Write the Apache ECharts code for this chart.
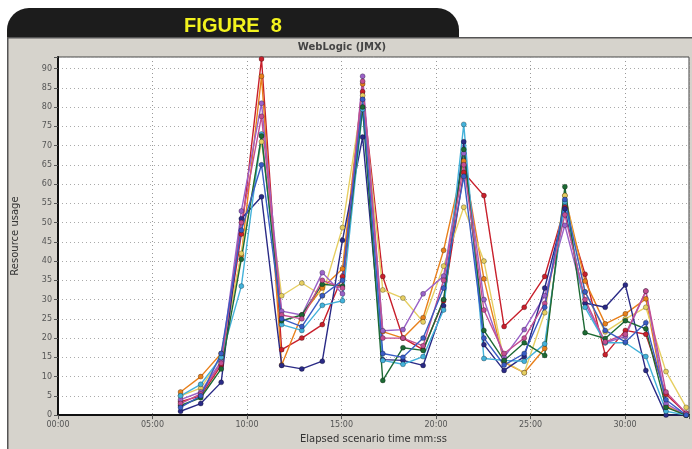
<!DOCTYPE html>
<html>
<head>
<meta charset="utf-8">
<script src="https://cdn.jsdelivr.net/npm/echarts@6/dist/echarts.min.js"></script>
<style>
  html, body { margin: 0; padding: 0; background: #fff; }
  #chart { width: 692px; height: 449px; }
</style>
</head>
<body>
<div id="chart"></div>
<script>
// sample times (seconds since start)
var times = [389, 453, 518, 582, 646, 710, 774, 839, 903, 967, 1031, 1095, 1159,
  1224, 1288, 1352, 1416, 1480, 1545, 1609, 1673, 1737, 1801, 1866, 1930, 1994]

var redVals = [3.5, 5, 13, 47, 92.5, 17, 20, 23.5, 36, 84, 36, 20, 17, 29.7, 63, 57, 23, 28, 36, 54, 36.6, 15.7, 22, 21, 5.4, 0.5]
var orangeVals = [6, 10, 16, 41.5, 88, 13, 26, 33, 38, 86, 21.7, 20, 25.3, 42.8, 66, 35.4, 13.7, 11, 17.3, 57, 34.8, 23.7, 26.3, 30.2, 2.3, 0]
var yellowVals = [5, 7, 15, 42, 71, 31, 34.3, 31, 48.7, 83, 32.5, 30.4, 24.2, 38.7, 54, 40, 14, 11, 26.6, 57, 32, 21.6, 25, 28, 11.3, 2]
var violetVals = [4, 6, 14, 53, 81, 27, 26, 37, 31.5, 88, 21.9, 22.2, 31.5, 36.1, 68, 30, 15, 22.2, 31, 49.3, 29, 18.8, 20.4, 32.2, 3, 0]
var navyVals = [1, 3, 8.5, 51, 56.7, 12.9, 12, 14, 45.4, 72.2, 14.4, 14.2, 12.9, 28.4, 71, 18.3, 11.6, 15.2, 33, 53.6, 29.1, 28, 33.8, 11.6, 0, 0]
var cyanVals = [5, 8, 15, 33.5, 73, 23.5, 22, 28.5, 29.7, 79.4, 14.2, 13.2, 15.2, 27.3, 75.5, 14.7, 14.2, 14, 18.5, 55.4, 28, 18.8, 18.8, 15.2, 1, 0]
var greenVals = [2.5, 4.5, 12, 40.5, 72.5, 24.5, 26, 34, 33.5, 80, 9, 17.5, 16.8, 30, 69, 22, 14.2, 18.8, 15.5, 59.3, 21.4, 19.9, 24.5, 22.4, 2, 0]
var pinkVals = [3, 5.5, 13.5, 50, 77.6, 26, 25, 35, 33, 86.7, 20, 20, 18, 35, 65, 27.3, 16, 20, 29, 52, 30, 19, 21, 32.2, 6, 0.5]
var blueVals = [2, 5, 16, 48, 65, 25, 23, 31, 35, 82, 16, 15, 20, 33, 62, 20, 13, 16, 28, 56, 32, 22, 19, 24, 4, 0]

var seriesNames = ['red', 'orange', 'yellow', 'violet', 'navy', 'cyan', 'green', 'pink', 'blue']
var seriesColors = ['#c8202c', '#e8801c', '#e6cf62', '#9a62c8', '#2a2a86', '#44b2da', '#1d6a34', '#c44e92', '#3a5cc4']
var seriesVals = [redVals, orangeVals, yellowVals, violetVals, navyVals, cyanVals, greenVals, pinkVals, blueVals]

function mmss(sec) {
  var m = Math.floor(sec / 60), s = Math.round(sec % 60)
  return (m < 10 ? '0' : '') + m + ':' + (s < 10 ? '0' : '') + s
}

var chart = echarts.init(document.getElementById('chart'))

var series = seriesVals.map(function(vals, k) {
  return {
    name: seriesNames[k],
    type: 'line',
    data: vals.map(function(v, i) { return [times[i], v] }),
    symbol: 'circle',
    symbolSize: 5,
    lineStyle: { color: seriesColors[k], width: 1.4 },
    itemStyle: { color: seriesColors[k], borderColor: 'rgba(0,0,0,0.35)', borderWidth: 0.8 },
    animation: false
  }
})

chart.setOption({
  backgroundColor: '#d6d3cc',
  graphic: [
    { type: 'rect', shape: { x: 0, y: 0, width: 692, height: 37 }, style: { fill: '#fff' }, silent: true },
    { type: 'rect', shape: { x: 0, y: 0, width: 7, height: 449 }, style: { fill: '#fff' }, silent: true },
    { type: 'rect', shape: { x: 7, y: 8, width: 452, height: 30, r: [22, 22, 0, 0] }, style: { fill: '#1c1c1c' }, silent: true },
    { type: 'rect', shape: { x: 7, y: 37, width: 685, height: 1.5 }, style: { fill: '#555' }, silent: true },
    { type: 'rect', shape: { x: 7, y: 37, width: 1.5, height: 412 }, style: { fill: '#555' }, silent: true },
    {
      type: 'text', x: 233, y: 26,
      style: {
        text: 'FIGURE  8', fill: '#f2f21e', font: 'bold 20px "Liberation Sans Narrow", "Liberation Sans", sans-serif',
        textAlign: 'center', textVerticalAlign: 'middle'
      }
    },
    {
      type: 'text', x: 342, y: 47,
      style: {
        text: 'WebLogic (JMX)', fill: '#444', font: 'bold 10px "DejaVu Sans", sans-serif',
        textAlign: 'center', textVerticalAlign: 'middle'
      }
    }
  ],
  grid: {
    left: 58, right: 1, top: 57, bottom: 31,
    show: true, backgroundColor: '#fff', borderColor: '#444', borderWidth: 1
  },
  xAxis: {
    type: 'value',
    min: 0,
    max: 2003,
    interval: 300,
    name: 'Elapsed scenario time mm:ss',
    nameLocation: 'middle',
    nameGap: 17,
    nameTextStyle: { color: '#333', fontSize: 10, fontFamily: 'DejaVu Sans' },
    axisLine: { lineStyle: { color: '#111', width: 2 } },
    axisTick: { show: true, length: 4, lineStyle: { color: '#555' } },
    axisLabel: {
      color: '#555', fontSize: 8, fontFamily: 'DejaVu Sans', margin: 6,
      formatter: function(v) { return v % 300 === 0 ? mmss(v) : '' }
    },
    splitLine: { show: true, lineStyle: { color: '#999', type: [1, 3], width: 1 } }
  },
  yAxis: {
    type: 'value',
    min: 0,
    max: 93,
    interval: 5,
    name: 'Resource usage',
    nameLocation: 'middle',
    nameGap: 38,
    nameTextStyle: { color: '#333', fontSize: 10, fontFamily: 'DejaVu Sans' },
    axisLine: { show: true, lineStyle: { color: '#111', width: 2 } },
    axisTick: { show: true, length: 4, lineStyle: { color: '#555' } },
    axisLabel: {
      color: '#555', fontSize: 8, fontFamily: 'DejaVu Sans', margin: 6,
      formatter: function(v) { return v % 5 === 0 ? String(v) : '' }
    },
    splitLine: { show: true, lineStyle: { color: '#aaa', type: [1, 3], width: 1 } }
  },
  series: series
})
</script>
</body>
</html>
